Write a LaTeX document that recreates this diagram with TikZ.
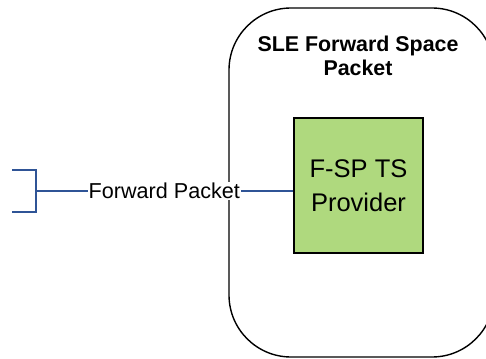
\documentclass[tikz,border=0pt]{standalone}
\usepackage{fontspec}
\setmainfont{Liberation Sans}
\usetikzlibrary{positioning}
\definecolor{linkblue}{HTML}{2F5496}
\definecolor{provgreen}{HTML}{AFD97E}
\tikzset{
  servicebox/.style={draw,line width=1.4pt,rounded corners=62pt,minimum width=265pt,minimum height=349pt,inner sep=0pt},
  titlenode/.style={align=center,font=\fontsize{21.4}{24}\selectfont\bfseries},
  providernode/.style={draw,line width=2.6pt,fill=provgreen,minimum width=129pt,minimum height=135pt,align=center,font=\fontsize{25.5}{34}\selectfont},
  link/.style={linkblue,line width=1.3pt},
  linklabel/.style={fill=white,text=black,inner sep=1pt,font=\fontsize{21.6}{24}\selectfont}
}
\begin{document}
\begin{tikzpicture}[x=1pt,y=-1pt]
  \useasboundingbox (0,0) rectangle (486,358);
  % service container
  \node[servicebox] (sle) at (361.5,182.5) {};
  \node[titlenode] (sletitle) at (358,56) {SLE Forward Space\\Packet};

  % provider
  \node[providernode] (prov) at (358.5,185.5) {F-SP TS\\Provider};

  % user side bracket
  \coordinate (brtop) at (12,170);
  \coordinate (brbot) at (12,212);
  \coordinate (brmid) at (36,191);
  \draw[link] (brtop) -| (brmid) |- (brbot);
  \draw[link] (brmid) -- (brmid -| prov.west) node[linklabel,midway] (fwdlabel) {Forward Packet};
\end{tikzpicture}
\end{document}
